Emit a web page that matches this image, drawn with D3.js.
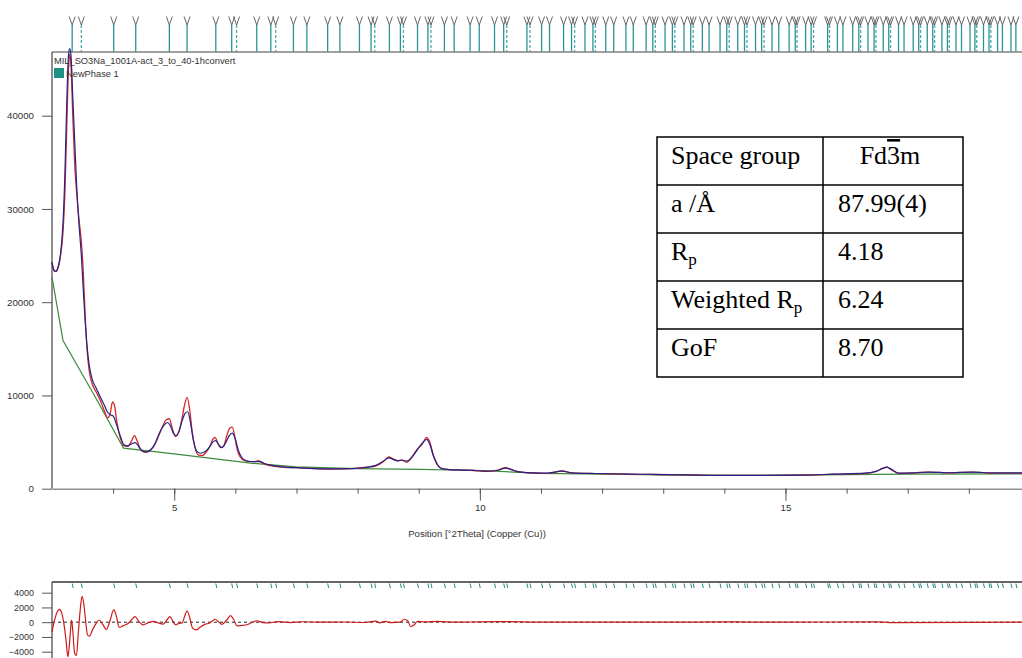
<!DOCTYPE html>
<html>
<head>
<meta charset="utf-8">
<script src="https://cdn.jsdelivr.net/npm/d3@7"></script>
<style>
  html, body { margin: 0; padding: 0; background: #fff; }
  svg { display: block; }
  text { font-family: "Liberation Sans", Arial, sans-serif; }
  text.serif { font-family: "Liberation Serif", "Times New Roman", serif; }
</style>
</head>
<body>
<svg id="chart"></svg>
<script>
// observed profile [2theta, counts]
const observed = [
  [3.00, 24300], [3.03, 23500], [3.06, 23300], [3.10, 23700], [3.14, 25000], [3.18, 27500],
  [3.21, 31500], [3.24, 38500], [3.27, 45000], [3.29, 46600], [3.31, 45500], [3.34, 40000],
  [3.37, 35000], [3.40, 32000], [3.44, 29000], [3.48, 26500], [3.51, 23500], [3.54, 19000],
  [3.57, 15200], [3.61, 12600], [3.66, 11200], [3.73, 10300], [3.80, 9300], [3.86, 8300],
  [3.91, 7600], [3.95, 8000], [3.99, 9300], [4.02, 9000], [4.06, 7200], [4.12, 5400],
  [4.18, 4600], [4.24, 4550], [4.30, 5100], [4.35, 5700], [4.40, 5000], [4.46, 4100],
  [4.53, 3900], [4.60, 4100], [4.67, 4600], [4.74, 5600], [4.81, 6700], [4.87, 7400],
  [4.92, 7500], [4.97, 6400], [5.02, 5600], [5.07, 6000], [5.12, 7300], [5.17, 9000],
  [5.21, 9800], [5.25, 8600], [5.29, 6300], [5.34, 4400], [5.40, 3600], [5.46, 3550],
  [5.52, 3900], [5.58, 4500], [5.63, 5300], [5.67, 5500], [5.71, 4900], [5.76, 4400],
  [5.81, 4600], [5.86, 5700], [5.91, 6500], [5.95, 6600], [5.99, 5600], [6.03, 4200],
  [6.08, 3400], [6.15, 3000], [6.25, 2900], [6.32, 2900], [6.38, 3000], [6.45, 2700],
  [6.60, 2450], [6.80, 2300], [7.00, 2250], [7.30, 2150], [7.60, 2100], [7.90, 2150],
  [8.15, 2300], [8.30, 2450], [8.42, 2900], [8.51, 3400], [8.58, 3200], [8.65, 3000],
  [8.72, 3100], [8.80, 2850], [8.88, 3300], [8.97, 4200], [9.06, 4800], [9.13, 5500],
  [9.18, 5000], [9.24, 3600], [9.30, 2700], [9.38, 2150], [9.50, 2050], [9.70, 2000],
  [9.90, 1950], [10.10, 1850], [10.30, 2000], [10.42, 2250], [10.50, 2100], [10.60, 1850],
  [10.80, 1700], [11.10, 1650], [11.35, 1900], [11.50, 1700], [11.90, 1620], [12.40, 1560],
  [12.80, 1530], [13.40, 1480], [13.90, 1420], [14.70, 1420], [15.30, 1450], [15.80, 1560],
  [16.30, 1650], [16.48, 1850], [16.58, 2150], [16.66, 2300], [16.74, 2000], [16.85, 1650],
  [17.10, 1700], [17.34, 1780], [17.70, 1700], [18.05, 1780], [18.40, 1680], [18.87, 1680]
];

// calculated profile
const calculated = [
  [3.00, 24300], [3.03, 23400], [3.06, 23300], [3.10, 23800], [3.14, 25200], [3.18, 28500],
  [3.21, 33500], [3.24, 41000], [3.27, 46500], [3.29, 47200], [3.31, 46500], [3.34, 42000],
  [3.37, 37500], [3.40, 33000], [3.44, 28500], [3.48, 25000], [3.51, 21500], [3.54, 18200],
  [3.57, 15600], [3.61, 13200], [3.66, 11700], [3.73, 10700], [3.80, 9700], [3.86, 8900],
  [3.91, 8200], [3.96, 7900], [4.00, 7800], [4.05, 7000], [4.12, 5600], [4.18, 4700],
  [4.24, 4600], [4.30, 4800], [4.36, 4950], [4.42, 4500], [4.48, 4050], [4.55, 3950],
  [4.62, 4200], [4.69, 4900], [4.76, 6000], [4.83, 6800], [4.89, 7100], [4.94, 6700],
  [4.99, 5900], [5.03, 5700], [5.08, 6200], [5.13, 7300], [5.18, 8100], [5.22, 8250],
  [5.26, 7300], [5.31, 5300], [5.37, 4000], [5.43, 3800], [5.50, 3950], [5.57, 4400],
  [5.63, 5000], [5.68, 5150], [5.73, 4700], [5.78, 4400], [5.84, 4900], [5.90, 5700],
  [5.95, 5950], [6.00, 5300], [6.05, 4100], [6.10, 3400], [6.18, 3000], [6.30, 2900],
  [6.40, 2900], [6.50, 2650], [6.65, 2450], [6.80, 2320], [7.00, 2250], [7.30, 2160],
  [7.60, 2120], [7.90, 2150], [8.15, 2300], [8.30, 2500], [8.42, 2950], [8.51, 3300],
  [8.58, 3150], [8.66, 3000], [8.73, 3050], [8.81, 2950], [8.90, 3500], [8.98, 4200],
  [9.06, 4900], [9.13, 5300], [9.18, 4800], [9.24, 3500], [9.30, 2600], [9.38, 2150],
  [9.50, 2050], [9.70, 2000], [9.90, 1960], [10.10, 1880], [10.30, 1980], [10.42, 2200],
  [10.50, 2080], [10.60, 1860], [10.80, 1720], [11.10, 1660], [11.35, 1880], [11.50, 1700],
  [11.90, 1630], [12.40, 1570], [12.80, 1530], [13.40, 1480], [13.90, 1430], [14.70, 1430],
  [15.30, 1460], [15.80, 1570], [16.30, 1660], [16.48, 1860], [16.58, 2150], [16.66, 2320],
  [16.74, 2050], [16.85, 1670], [17.10, 1700], [17.34, 1780], [17.70, 1710], [18.05, 1780],
  [18.40, 1690], [18.87, 1690]
];

// fitted background
const background = [
  [3.00, 22700], [3.18, 15900], [3.68, 10150], [4.17, 4350], [5.00, 3730], [6.25, 2740],
  [7.00, 2350], [8.00, 2150], [9.00, 2080], [10.00, 1950], [11.00, 1650], [12.00, 1560],
  [13.00, 1490], [14.00, 1420], [15.00, 1450], [16.00, 1510], [17.00, 1560], [18.87, 1580]
];

// observed - calculated
const difference = [
  [3.00, -1300], [3.04, 200], [3.08, 1300], [3.12, 1750], [3.16, 1200], [3.20, -500],
  [3.23, -2500], [3.26, -4700], [3.29, -2500], [3.32, 300], [3.34, -1200], [3.37, -4200],
  [3.40, -4500], [3.43, -1500], [3.46, 1500], [3.49, 3500], [3.52, 2500], [3.55, 200],
  [3.58, -1700], [3.61, -1900], [3.67, -900], [3.72, -200], [3.77, 300], [3.83, -300],
  [3.89, -1000], [3.95, 200], [4.01, 1700], [4.05, 900], [4.10, -700], [4.16, -500],
  [4.25, -150], [4.30, 300], [4.36, 750], [4.42, 100], [4.49, -350], [4.57, -100],
  [4.66, 100], [4.74, -100], [4.82, -250], [4.88, 300], [4.93, 750], [4.98, 100],
  [5.02, -350], [5.08, -150], [5.13, -100], [5.17, 800], [5.21, 1550], [5.25, 700],
  [5.30, -800], [5.36, -1050], [5.42, -700], [5.50, -300], [5.58, -100], [5.63, 200],
  [5.67, 400], [5.72, 100], [5.78, -300], [5.86, 300], [5.92, 900], [5.97, 400],
  [6.03, -500], [6.10, -450], [6.19, -350], [6.27, -50], [6.35, 200], [6.45, -50],
  [6.55, -100], [6.70, 80], [6.90, -50], [7.10, 60], [7.40, 0], [7.80, 30], [8.10, -40],
  [8.30, 150], [8.36, -80], [8.45, 100], [8.55, -60], [8.70, 0], [8.76, 400], [8.82, 200],
  [8.87, -600], [8.93, -300], [8.98, 100], [9.10, 50], [9.30, 100], [9.60, 0], [10.00, 50],
  [10.40, 80], [11.00, 0], [13.00, 0], [14.00, 40], [15.00, 0], [16.50, 50], [16.70, -50],
  [18.87, 0]
];

// reflection positions, 2theta
const reflections = [
  3.33, 3.48, 4.01, 4.37, 4.92, 5.21, 5.68, 5.94, 6.02, 6.35, 6.58, 6.66, 6.95, 7.17, 7.51,
  7.71, 8.03, 8.22, 8.28, 8.52, 8.70, 8.75, 8.98, 9.15, 9.20, 9.42, 9.58, 9.84, 9.99, 10.24,
  10.39, 10.44, 10.77, 10.82, 11.01, 11.14, 11.37, 11.50, 11.55, 11.72, 11.85, 11.89, 12.06,
  12.19, 12.39, 12.51, 12.72, 12.83, 12.87, 13.03, 13.15, 13.19, 13.34, 13.45, 13.49, 13.64,
  13.75, 13.93, 14.04, 14.08, 14.22, 14.33, 14.37, 14.51, 14.61, 14.65, 14.78, 14.89, 15.06,
  15.16, 15.19, 15.33, 15.42, 15.46, 15.69, 15.72, 15.85, 15.94, 16.10, 16.20, 16.23, 16.35,
  16.45, 16.48, 16.60, 16.69, 16.72, 16.85, 16.94, 17.09, 17.18, 17.21, 17.32, 17.41, 17.44,
  17.56, 17.65, 17.68, 17.79, 17.88, 18.02, 18.10, 18.13, 18.24, 18.33, 18.36, 18.47, 18.55,
  18.69, 18.77
];
// reflections drawn with a dashed line
const weakReflections = [
  3.48, 6.02, 6.66, 8.28, 8.75, 9.20, 10.44, 10.82, 11.55, 11.89, 12.87, 13.19, 13.49, 14.08,
  14.37, 14.65, 15.19, 15.46, 15.72, 16.23, 16.48, 16.72, 17.21, 17.44, 17.68, 18.13, 18.36
];

const intensityTicks = [0, 10000, 20000, 30000, 40000];
const diffTicks = [4000, 2000, 0, -2000, -4000];
const angleTicks = [5, 10, 15];
const angleMinorTicks = d3.range(4, 19);
const legendLabels = ['MIL_SO3Na_1001A-act_3_to_40-1hconvert', 'NewPhase 1'];
const xTitle = 'Position [°2Theta] (Copper (Cu))';

const tableLabels = [['Space group'], ['a /Å'], ['R', 'p'], ['Weighted R', 'p'], ['GoF']];
const tableValues = [['Fd', '3', 'm'], ['87.99(4)'], ['4.18'], ['6.24'], ['8.70']];

const width = 1022;
const height = 658;
const plotTop = 52;
const diffTop = 582;

const svg = d3.select('#chart')
  .attr('width', width)
  .attr('height', height);

const x = d3.scaleLinear().domain([3, 18.87]).range([52, 1022]);
const y = d3.scaleLinear().domain([0, 40000]).range([488.7, 115.7]);
const yDiff = d3.scaleLinear().domain([-4000, 4000]).range([651.7, 592.7]);
const fmt = d3.format('d');

const teal = '#2a9494';

// reflection markers above the plot
const marks = svg.append('g');
reflections.forEach(r => {
  const weak = weakReflections.includes(r);
  const px = x(r);
  marks.append('line')
    .attr('x1', px).attr('x2', px)
    .attr('y1', 25).attr('y2', plotTop)
    .attr('stroke', weak ? '#48aaaa' : teal)
    .attr('stroke-width', 1.3)
    .attr('stroke-dasharray', weak ? '3,2' : null);
  marks.append('path')
    .attr('d', `M${px - 3},16.5L${px},25L${px + 3},16.5`)
    .attr('fill', 'none')
    .attr('stroke', '#555')
    .attr('stroke-width', 0.9);
  // small marks in the difference panel
  marks.append('line')
    .attr('x1', px).attr('x2', px + 1)
    .attr('y1', diffTop + 1.5).attr('y2', diffTop + 6)
    .attr('stroke', '#2a8a80')
    .attr('stroke-width', 1);
});

// frame of main plot
svg.append('line')
  .attr('x1', x(3)).attr('x2', width)
  .attr('y1', plotTop).attr('y2', plotTop)
  .attr('stroke', '#808080').attr('stroke-width', 1.6);

// axes
const yAxis = d3.axisLeft(y).tickValues(intensityTicks).tickFormat(fmt)
  .tickSize(10).tickPadding(8).tickSizeOuter(0);
const gy = svg.append('g').attr('transform', `translate(${x(3)},0)`).call(yAxis);
gy.select('.domain').remove();
gy.append('line').attr('x1', 0).attr('x2', 0).attr('y1', plotTop).attr('y2', y(0))
  .attr('stroke', '#444').attr('stroke-width', 1.2);

const xMinor = d3.axisBottom(x).tickValues(angleMinorTicks).tickSize(5).tickFormat('').tickSizeOuter(0);
const gxm = svg.append('g').attr('transform', `translate(0,${y(0)})`).call(xMinor);
gxm.select('.domain').attr('stroke', '#909090').attr('stroke-width', 1.6);

const xMajor = d3.axisBottom(x).tickValues(angleTicks).tickFormat(fmt)
  .tickSize(12).tickPadding(3).tickSizeOuter(0);
const gx = svg.append('g').attr('transform', `translate(0,${y(0)})`).call(xMajor);
gx.select('.domain').remove();

svg.selectAll('.tick line').attr('stroke', '#555');
svg.selectAll('.tick text').attr('font-size', '9.7px').attr('fill', '#333')
  .attr('font-family', '"Liberation Sans", Arial, sans-serif');

svg.append('text')
  .attr('x', 477).attr('y', 537)
  .attr('text-anchor', 'middle')
  .attr('font-size', '9.6px')
  .attr('fill', '#333')
  .text(xTitle);

// curves
const line = d3.line().x(d => x(d[0])).y(d => y(d[1])).curve(d3.curveMonotoneX);

svg.append('path').datum(background)
  .attr('d', d3.line().x(d => x(d[0])).y(d => y(d[1])))
  .attr('fill', 'none').attr('stroke', '#3c8c3c').attr('stroke-width', 1.2);

svg.append('path').datum(observed)
  .attr('d', line)
  .attr('fill', 'none').attr('stroke', '#d42a2a').attr('stroke-width', 1.3);

svg.append('path').datum(calculated)
  .attr('d', line)
  .attr('fill', 'none').attr('stroke', '#242488').attr('stroke-width', 1.2);

// legend
svg.append('text')
  .attr('x', 54).attr('y', 63.5)
  .attr('font-size', '9.3px').attr('fill', '#333')
  .text(legendLabels[0]);
svg.append('rect')
  .attr('x', 54).attr('y', 68).attr('width', 10).attr('height', 10)
  .attr('fill', '#1f8f85');
svg.append('text')
  .attr('x', 66).attr('y', 76.5)
  .attr('font-size', '9.3px').attr('fill', '#333')
  .text(legendLabels[1]);

// difference panel
svg.append('line')
  .attr('x1', x(3)).attr('x2', width)
  .attr('y1', diffTop).attr('y2', diffTop)
  .attr('stroke', '#333').attr('stroke-width', 1.3);

const dAxis = d3.axisLeft(yDiff).tickValues(diffTicks).tickFormat(fmt)
  .tickSize(10).tickPadding(8).tickSizeOuter(0);
const gd = svg.append('g').attr('transform', `translate(${x(3)},0)`).call(dAxis);
gd.select('.domain').remove();
gd.append('line').attr('x1', 0).attr('x2', 0).attr('y1', diffTop).attr('y2', height)
  .attr('stroke', '#444').attr('stroke-width', 1.2);
gd.selectAll('.tick line').attr('stroke', '#555');
gd.selectAll('.tick text').attr('font-size', '9px').attr('fill', '#333');

svg.append('line')
  .attr('x1', x(3)).attr('x2', width)
  .attr('y1', yDiff(0)).attr('y2', yDiff(0))
  .attr('stroke', '#222').attr('stroke-width', 1).attr('stroke-dasharray', '3,3');

svg.append('path').datum(difference)
  .attr('d', d3.line().x(d => x(d[0])).y(d => yDiff(d[1])).curve(d3.curveMonotoneX))
  .attr('fill', 'none').attr('stroke', '#cc1a1a').attr('stroke-width', 1.2);

// parameter table
const tLeft = 657, tMid = 823, tRight = 963, tTop = 137, rowH = 48;
const table = svg.append('g');
table.append('rect')
  .attr('x', tLeft).attr('y', tTop)
  .attr('width', tRight - tLeft).attr('height', rowH * tableLabels.length)
  .attr('fill', '#fff').attr('stroke', '#000').attr('stroke-width', 1.5);
table.append('line')
  .attr('x1', tMid).attr('x2', tMid).attr('y1', tTop).attr('y2', tTop + rowH * tableLabels.length)
  .attr('stroke', '#000').attr('stroke-width', 1.5);
tableLabels.forEach((parts, i) => {
  const top = tTop + rowH * i;
  if (i > 0) {
    table.append('line')
      .attr('x1', tLeft).attr('x2', tRight).attr('y1', top).attr('y2', top)
      .attr('stroke', '#000').attr('stroke-width', 1.5);
  }
  const t = table.append('text')
    .attr('class', 'serif')
    .attr('x', tLeft + 14).attr('y', top + 27)
    .attr('font-size', '26px').attr('fill', '#000');
  t.append('tspan').text(parts[0]);
  if (parts[1]) {
    t.append('tspan').attr('font-size', '17px').attr('dy', 5).text(parts[1]);
  }

  const v = tableValues[i];
  const tv = table.append('text')
    .attr('class', 'serif')
    .attr('y', top + 27)
    .attr('font-size', '26px').attr('fill', '#000');
  if (v.length > 1) {
    tv.attr('x', (tMid + tRight) / 2 - 3).attr('text-anchor', 'middle');
    tv.append('tspan').text(v[0]);
    tv.append('tspan').style('text-decoration', 'overline').text(v[1]);
    tv.append('tspan').text(v[2]);
  } else {
    tv.attr('x', tMid + 15).text(v[0]);
  }
});
</script>
</body>
</html>
